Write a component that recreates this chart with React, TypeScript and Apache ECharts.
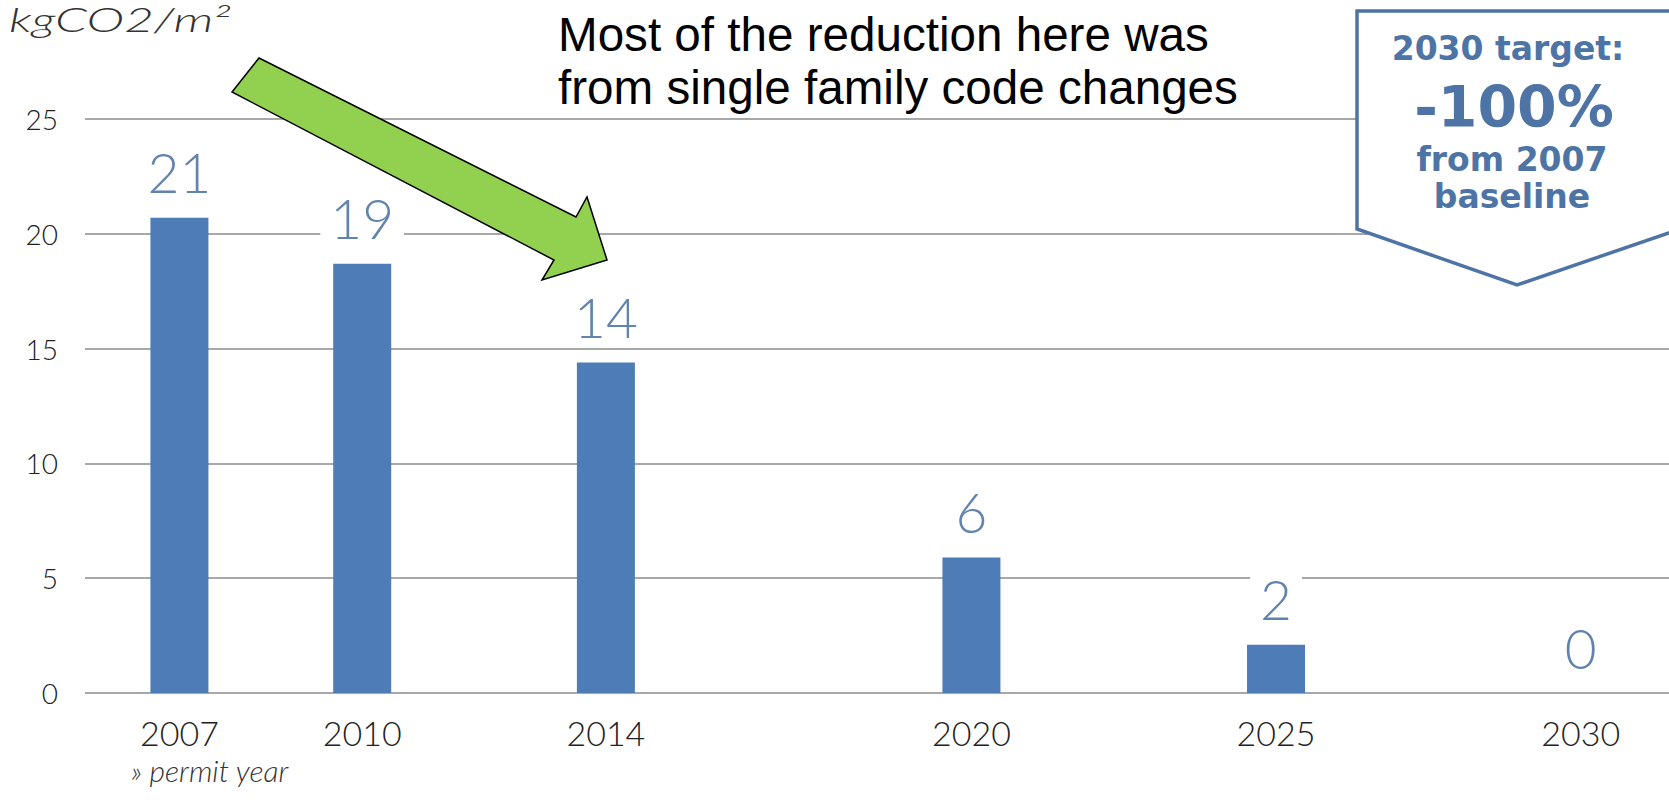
import React, { useEffect, useRef } from "react";
import * as echarts from "echarts";

const years = [2007, 2010, 2014, 2020, 2025, 2030];
const values = [20.7, 18.7, 14.4, 5.9, 2.1, 0];
const yMin = 0;
const yMax = 25;
const yStep = 5;
const xMin = 2005.45;
const xMax = 2031.45;
const unitLabel = "kgCO2/m²";
const xAxisTitle = "» permit year";
const annotationLines = ["Most of the reduction here was", "from single family code changes"];
const targetLines = ["2030 target:", "-100%", "from 2007", "baseline"];

const BAR = "#4e7cb6";
const LABEL_BLUE = "#6283ad";
const BOX_BLUE = "#4e74a5";

export default function App() {
  const ref = useRef<HTMLDivElement>(null);
  useEffect(() => {
    document.body.style.margin = "0";
    const chart = echarts.init(ref.current!, undefined, { renderer: "svg" });
    const option: any = {
      animation: false,
      backgroundColor: "#ffffff",
      grid: { left: 85, right: 0, top: 119, bottom: 113, containLabel: false },
      xAxis: {
        type: "value",
        min: xMin,
        max: xMax,
        splitLine: { show: false },
        axisLine: { show: false },
        axisTick: { show: false },
        axisLabel: {
          customValues: years,
          formatter: (v: number) => String(v),
          fontFamily: "Lato",
          fontWeight: 300,
          fontSize: 34,
          color: "#222",
          margin: 22,
        },
      },
      yAxis: {
        type: "value",
        min: yMin,
        max: yMax,
        interval: yStep,
        axisLine: { show: false },
        axisTick: { show: false },
        splitLine: { lineStyle: { color: "#a8a8a8", width: 2 } },
        axisLabel: {
          fontFamily: "Lato",
          fontWeight: 300,
          fontSize: 28,
          color: "#222",
          margin: 27,
        },
      },
      series: [
        {
          type: "bar",
          data: years.map((y, i) => [y, values[i]]),
          barWidth: 58,
          itemStyle: { color: BAR },
          label: {
            show: true,
            position: "top",
            distance: 18,
            formatter: (p: any) => String(Math.round(p.value[1])),
            fontFamily: "Lato",
            fontWeight: 300,
            fontSize: 55,
            color: LABEL_BLUE,
            backgroundColor: "#ffffff",
            padding: [0, 10, 0, 10],
          },
        },
      ],
      graphic: [
        {
          type: "text",
          x: 9,
          y: 3,
          scaleX: 1.55,
          style: {
            text: unitLabel,
            font: "italic 300 33px Lato",
            fill: "#333",
          },
        },
        {
          type: "text",
          left: 131,
          top: 755,
          style: {
            text: xAxisTitle,
            font: "italic 300 30px Lato",
            fill: "#333",
          },
        },
        {
          type: "polygon",
          shape: {
            points: [
              [259, 58],
              [576, 217],
              [587, 197],
              [607, 260],
              [542, 280],
              [554, 260],
              [232, 92],
            ],
          },
          style: { fill: "#92d050", stroke: "#000", lineWidth: 1.5 },
          z: 10,
        },
        {
          type: "text",
          left: 558,
          top: 8,
          style: {
            text: annotationLines.join("\n"),
            font: "47.6px 'Liberation Sans', Arial, sans-serif",
            lineHeight: 53,
            fill: "#000",
          },
          z: 10,
        },
        {
          type: "polygon",
          shape: {
            points: [
              [1357, 11],
              [1680, 11],
              [1680, 229],
              [1517, 285],
              [1357, 229],
            ],
          },
          style: { fill: "#ffffff", stroke: BOX_BLUE, lineWidth: 3.5 },
          z: 10,
        },
        {
          type: "text",
          x: 1508,
          y: 48,
          style: { text: targetLines[0], font: "bold 33px 'DejaVu Sans'", fill: BOX_BLUE, align: "center", verticalAlign: "middle" },
          z: 11,
        },
        {
          type: "text",
          x: 1514,
          y: 107,
          style: { text: targetLines[1], font: "bold 57px 'DejaVu Sans'", fill: BOX_BLUE, align: "center", verticalAlign: "middle" },
          z: 11,
        },
        {
          type: "text",
          x: 1512,
          y: 159,
          style: { text: targetLines[2], font: "bold 33px 'DejaVu Sans'", fill: BOX_BLUE, align: "center", verticalAlign: "middle" },
          z: 11,
        },
        {
          type: "text",
          x: 1512,
          y: 196,
          style: { text: targetLines[3], font: "bold 33px 'DejaVu Sans'", fill: BOX_BLUE, align: "center", verticalAlign: "middle" },
          z: 11,
        },
      ],
    };
    chart.setOption(option);
    return () => chart.dispose();
  }, []);
  return <div ref={ref} style={{ position: "fixed", left: 0, top: 0, width: 1669, height: 806 }} />;
}
